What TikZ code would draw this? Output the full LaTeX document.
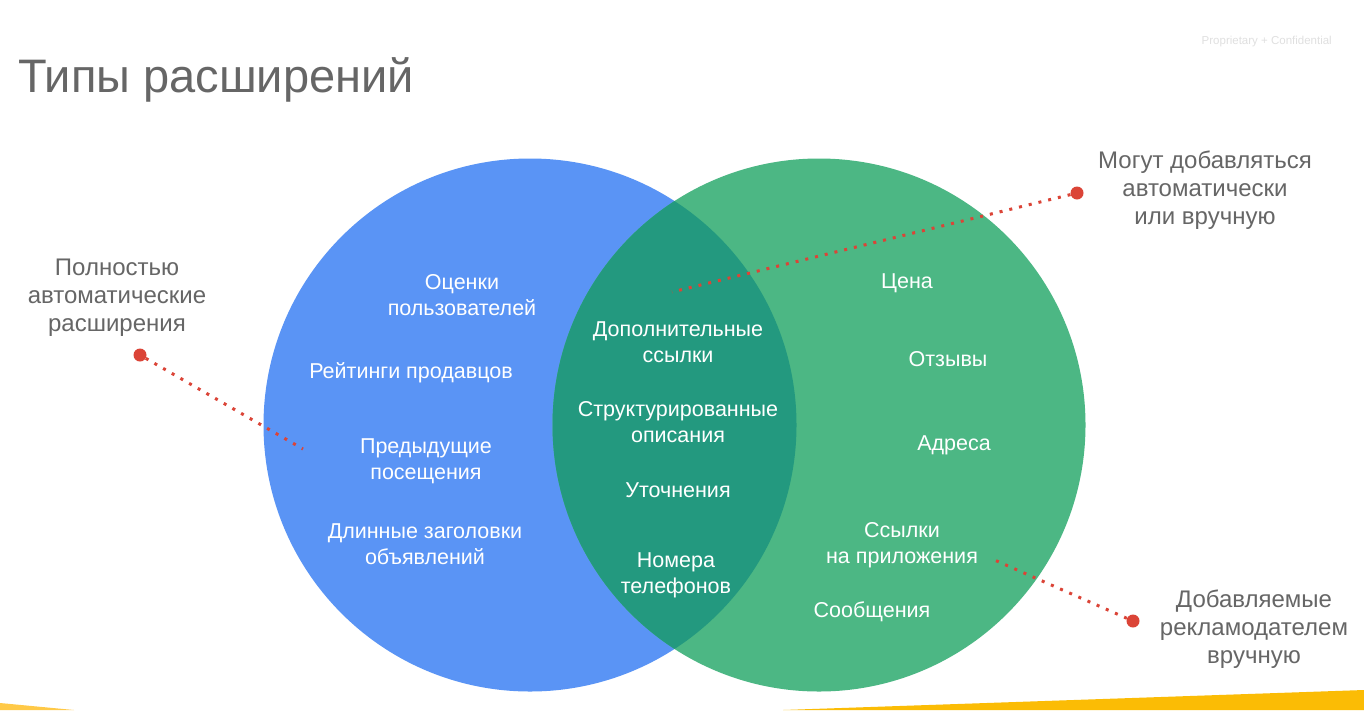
\documentclass[tikz,border=0pt]{standalone}
\usepackage{fontspec}
\setmainfont{Liberation Sans}
\usetikzlibrary{positioning}

\definecolor{vennblue}{RGB}{90,148,245}
\definecolor{venngreen}{RGB}{76,183,132}
\definecolor{vennmix}{RGB}{35,153,127}
\definecolor{dotred}{RGB}{219,68,55}
\definecolor{labelgrey}{RGB}{102,102,102}
\definecolor{stripyellow}{RGB}{251,188,5}
\definecolor{stripyellowlt}{RGB}{255,201,71}

\begin{document}
\begin{tikzpicture}[x=1pt, y=-1pt,
    inset/.style={text=white, align=center, yshift=-2.5pt, font=\fontsize{21.5}{26}\selectfont},
    sidelabel/.style={text=labelgrey, align=center, yshift=-1.5pt, font=\fontsize{24}{28}\selectfont},
    reddot/.style={circle, fill=dotred, minimum size=13pt, inner sep=0pt},
    dotline/.style={dotred, line width=3pt, dash pattern=on 3pt off 7pt}
]
    \useasboundingbox[fill=white] (0,0) rectangle (1364,710);

    % Yellow strips at the bottom
    \fill[stripyellowlt] (0,703) -- (74,710) -- (0,710) -- cycle;
    \fill[stripyellow] (783,710) -- (1364,690) -- (1364,710) -- cycle;

    % Title
    \node[anchor=base west, text=labelgrey, font=\fontsize{47}{56}\selectfont, inner sep=0pt] (title) at (18,92) {Типы расширений};
    \node[anchor=base east, text=black!12, font=\fontsize{11.5}{13}\selectfont, inner sep=0pt] (conf) at (1332,44) {Proprietary + Confidential};

    % Circles
    \fill[vennblue] (530,425) circle (266.5);
    \fill[venngreen] (819,425) circle (266.5);
    \begin{scope}
        \clip (530,425) circle (266.5);
        \fill[vennmix] (819,425) circle (266.5);
    \end{scope}

    % Blue circle
    \node[inset] (rating) at (462,293) {Оценки\\пользователей};
    \node[inset] (seller) at (411,370) {Рейтинги продавцов};
    \node[inset] (visits) at (426,459) {Предыдущие\\посещения};
    \node[inset] (headline) at (425,542) {Длинные заголовки\\объявлений};

    % Overlap
    \node[inset] (sitelinks) at (678,340) {Дополнительные\\ссылки};
    \node[inset] (snippets) at (678,420) {Структурированные\\описания};
    \node[inset] (callouts) at (678,488) {Уточнения};
    \node[inset] (calls) at (676,573) {Номера\\телефонов};

    % Green circle
    \node[inset] (price) at (907,281) {Цена};
    \node[inset] (reviews) at (948,357) {Отзывы};
    \node[inset] (location) at (954,443) {Адреса};
    \node[inset] (apps) at (902,543) {Ссылки\\на приложения};
    \node[inset] (messages) at (872,609) {Сообщения};

    % Side labels
    \node[sidelabel] (autolabel) at (117,296) {Полностью\\автоматические\\расширения};
    \node[sidelabel] (bothlabel) at (1205,189) {Могут добавляться\\автоматически\\или вручную};
    \node[sidelabel] (manuallabel) at (1254,628) {Добавляемые\\рекламодателем\\вручную};

    % Pointers
    \node[reddot] (autodot) at (140,355) {};
    \node[reddot] (bothdot) at (1077,193) {};
    \node[reddot] (manualdot) at (1133,621) {};
    \coordinate (autoend) at (303,449);
    \coordinate (bothend) at (672,292);
    \coordinate (manualend) at (990,558);
    \draw[dotline] (autodot) -- (autoend);
    \draw[dotline] (bothdot) -- (bothend);
    \draw[dotline] (manualdot) -- (manualend);
\end{tikzpicture}
\end{document}
